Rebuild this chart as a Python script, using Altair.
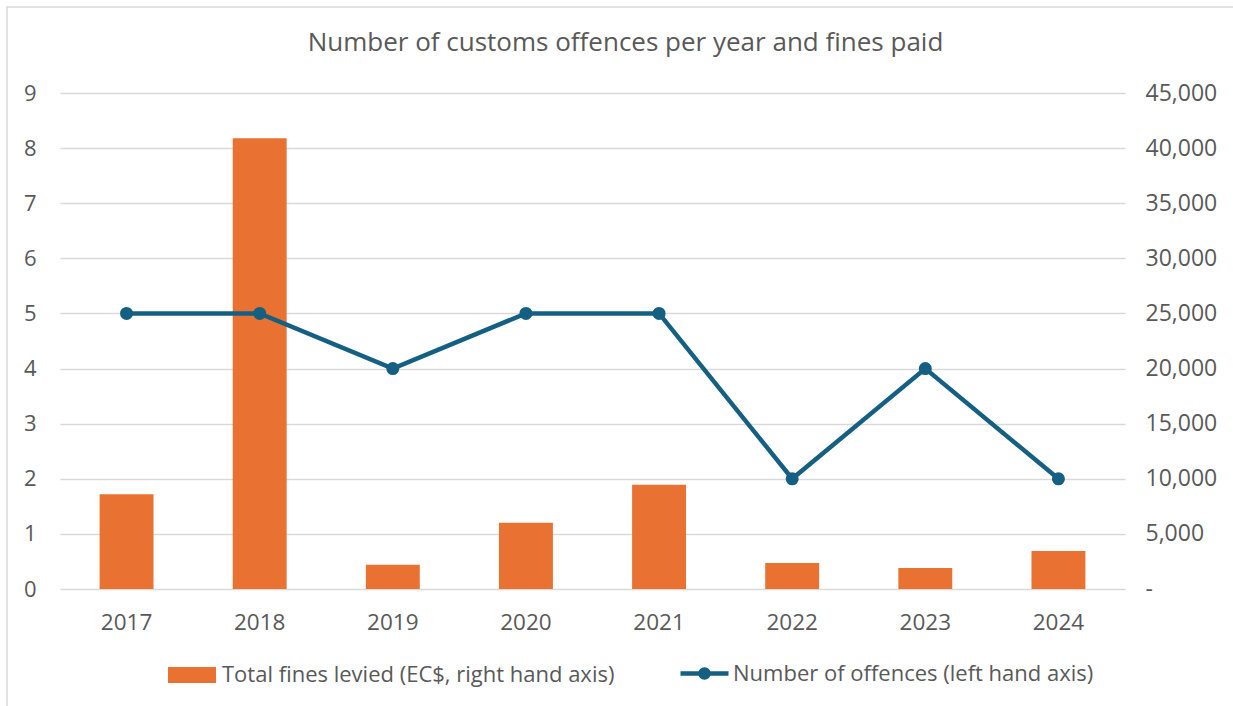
import altair as alt
import pandas as pd

years = ["2017", "2018", "2019", "2020", "2021", "2022", "2023", "2024"]
fines = [8600, 40900, 2200, 6000, 9450, 2350, 1900, 3450]
offences = [5, 5, 4, 5, 5, 2, 4, 2]

bar_label = "Total fines levied (EC$, right hand axis)"
line_label = "Number of offences (left hand axis)"

ORANGE = "#E97132"
BLUE = "#156082"
TEXT = "#595959"
GRID = "#D9D9D9"
FONT = "Open Sans"

df = pd.DataFrame({
    "year": years,
    "fines": fines,
    "offences": offences,
    "bar_series": [bar_label] * len(years),
    "line_series": [line_label] * len(years),
})

x_enc = alt.X(
    "year:N",
    title=None,
    sort=years,
    scale=alt.Scale(paddingInner=0.595, paddingOuter=0.2975),
    axis=alt.Axis(labelAngle=0, labelFontSize=22.5, labelColor=TEXT, labelFont=FONT,
                  labelPadding=22, ticks=False, domain=False, grid=False),
)

bars = alt.Chart(df).mark_bar(color=ORANGE).encode(
    x=x_enc,
    y=alt.Y(
        "fines:Q",
        title=None,
        scale=alt.Scale(domain=[0, 45000], nice=False),
        axis=alt.Axis(orient="right", values=list(range(0, 45001, 5000)),
                      labelExpr="datum.value == 0 ? '-' : format(datum.value, ',')",
                      labelFontSize=23, labelColor=TEXT, labelFont=FONT, labelPadding=20,
                      ticks=False, domain=False, grid=False),
    ),
    fill=alt.Fill(
        "bar_series:N",
        scale=alt.Scale(domain=[bar_label], range=[ORANGE]),
        legend=alt.Legend(
            title=None, orient="none", legendX=116, legendY=566,
            symbolType="M-1.5,-0.5H1.5V0.5H-1.5Z", symbolSize=1024,
            symbolStrokeWidth=0, labelOffset=14, labelLimit=0,
            labelFontSize=22, labelColor=TEXT, labelFont=FONT,
        ),
    ),
)

y_left = alt.Y(
    "offences:Q",
    title=None,
    scale=alt.Scale(domain=[0, 9], nice=False),
    axis=alt.Axis(orient="left", values=list(range(0, 10)), labelFontSize=22,
                  labelColor=TEXT, labelFont=FONT, labelPadding=24, ticks=False,
                  domain=False, grid=True, gridColor=GRID, gridWidth=1.5),
)

line = alt.Chart(df).mark_line(strokeWidth=4.5).encode(
    x=x_enc,
    y=y_left,
    stroke=alt.Stroke(
        "line_series:N",
        scale=alt.Scale(domain=[line_label], range=[BLUE]),
        legend=alt.Legend(
            title=None, orient="none", legendX=626, legendY=562,
            symbolType="M-1.5,0H1.5M0.25,0A0.25,0.25 0 1,1 -0.25,0A0.25,0.25 0 1,1 0.25,0Z",
            symbolSize=1024, symbolStrokeWidth=4.5, symbolFillColor=BLUE,
            labelOffset=10, labelLimit=0, labelFontSize=22, labelColor=TEXT, labelFont=FONT,
        ),
    ),
)

points = alt.Chart(df).mark_point(filled=True, color=BLUE, size=170, opacity=1).encode(
    x=x_enc,
    y=y_left,
)

frame = alt.Chart(alt.Data(values=[{"f": 1}])).mark_rect(
    fill=None, stroke=GRID, strokeWidth=1.5
).encode(
    x=alt.value(-53), x2=alt.value(1200), y=alt.value(-86), y2=alt.value(700)
)

left_layer = alt.layer(line, points)

chart = alt.layer(frame, bars, left_layer).resolve_scale(
    y="independent", fill="independent", stroke="independent"
).properties(
    width=1065,
    height=496,
    title=alt.TitleParams(
        "Number of customs offences per year and fines paid",
        fontSize=26, font=FONT, color=TEXT, fontWeight="normal",
        anchor="middle", offset=-50, dx=33,
    ),
    autosize=alt.AutoSizeParams(type="none"),
    padding={"left": 60, "top": 93, "right": 108, "bottom": 117},
).configure(background="white", view=alt.ViewConfig(stroke=None))

chart.save("out.html", embed_options={"renderer": "svg", "actions": False})
